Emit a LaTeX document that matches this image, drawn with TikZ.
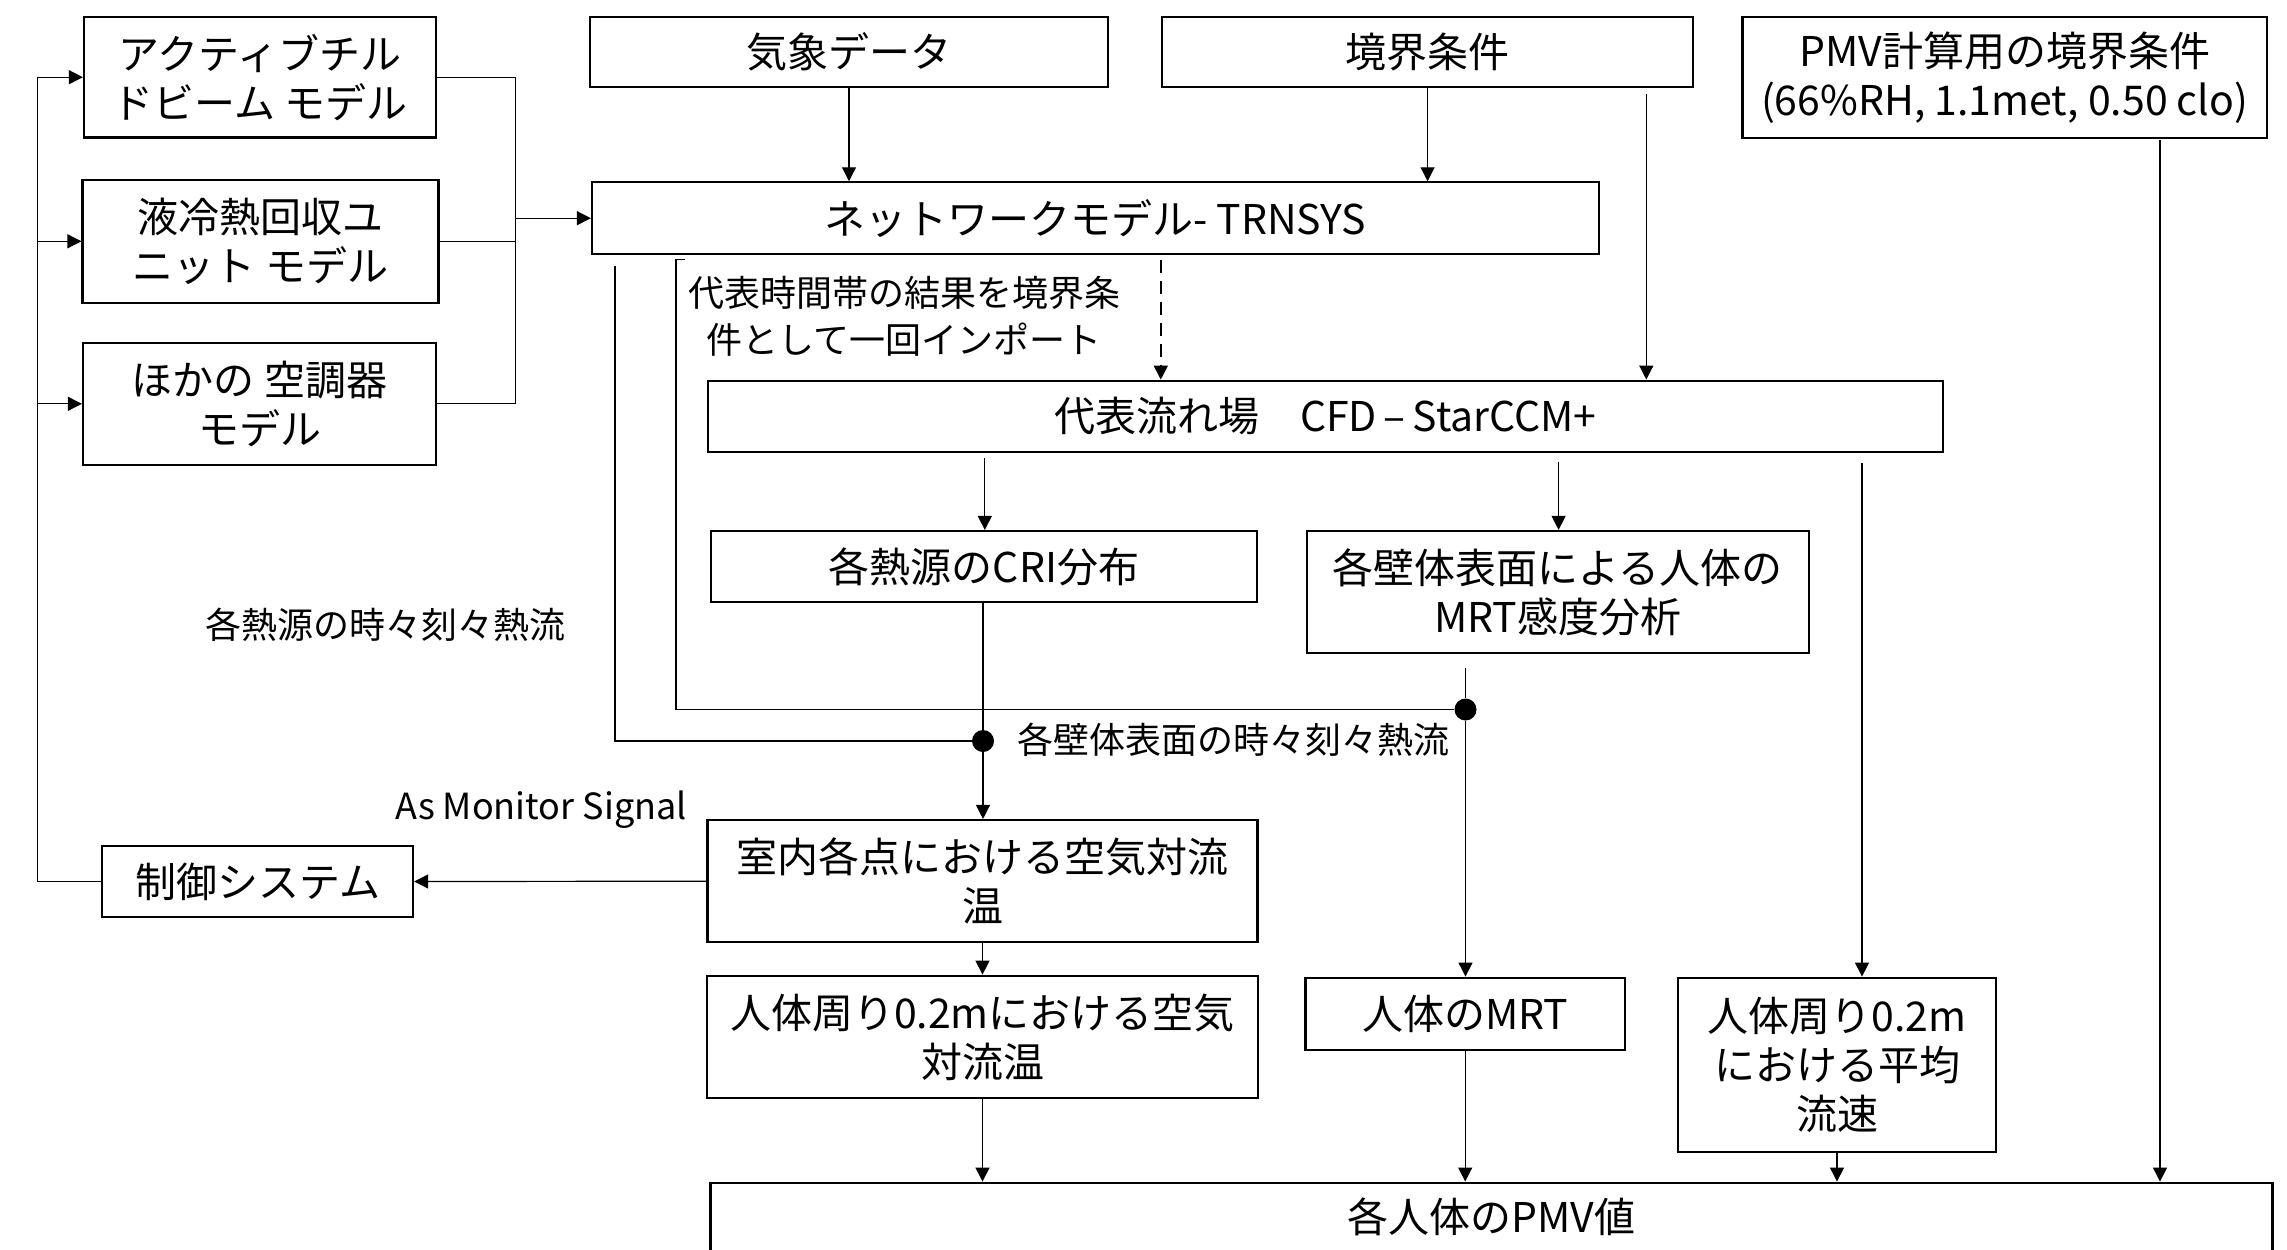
\documentclass[tikz,border=0pt]{standalone}
\usepackage{fontspec}
\setmainfont{Noto Sans CJK JP}
\usetikzlibrary{arrows.meta}
\tikzset{
 bx/.style={draw, line width=1.1pt, inner sep=0pt, align=center, font=\fontsize{20.5}{24.5}\selectfont},
 lbl/.style={inner sep=0pt, align=center, font=\fontsize{18}{23.5}\selectfont},
 arr/.style={-{Triangle[length=7pt,width=7pt]}, line width=0.6pt},
 ln/.style={line width=0.6pt},
 jdot/.style={circle, fill, inner sep=0pt, minimum size=11pt}
}
\begin{document}
\begin{tikzpicture}[x=0.5pt,y=-0.5pt]
\useasboundingbox (0,0) rectangle (2287,1249);
\clip (0,0) rectangle (2287,1249);
% boxes
\node[bx, minimum width=176pt, minimum height=60.25pt] (b1) at (260,77.2) {アクティブチル\\ドビーム モデル};
\node[bx, minimum width=178pt, minimum height=61.35pt] (b2) at (260.5,241.3) {液冷熱回収ユ\\ニット モデル};
\node[bx, minimum width=176.5pt, minimum height=61.15pt] (b3) at (259.5,403.8) {ほかの 空調器\\モデル};
\node[bx, minimum width=259pt, minimum height=35.3pt] (wx) at (849,52) {気象データ};
\node[bx, minimum width=265.3pt, minimum height=35.3pt] (bc) at (1427.6,52) {境界条件};
\node[bx, minimum width=262.2pt, minimum height=60.5pt] (pbc) at (2004.6,77.2) {PMV計算用の境界条件\\(66\%RH, 1.1met, 0.50 clo)};
\node[bx, minimum width=503.3pt, minimum height=35.85pt] (trn) at (1095.3,218.2) {ネットワークモデル- TRNSYS};
\node[bx, minimum width=617.65pt, minimum height=35.5pt] (cfd) at (1325.4,416.2) {代表流れ場　CFD\,–\,StarCCM+};
\node[bx, minimum width=273.3pt, minimum height=35.35pt] (cri) at (984,566.4) {各熱源のCRI分布};
\node[bx, minimum width=250.8pt, minimum height=61pt] (sens) at (1557.8,592) {各壁体表面による人体の\\MRT感度分析};
\node[bx, minimum width=275pt, minimum height=61.15pt] (room) at (982.5,881.2) {室内各点における空気対流\\温};
\node[bx, minimum width=155.5pt, minimum height=35.8pt] (ctrl) at (257.6,881.5) {制御システム};
\node[bx, minimum width=275.25pt, minimum height=61.3pt] (around) at (982.5,1037) {人体周り0.2mにおける空気\\対流温};
\node[bx, minimum width=159.8pt, minimum height=36.15pt] (mrt) at (1465.2,1013.8) {人体のMRT};
\node[bx, minimum width=158.75pt, minimum height=87pt] (vel) at (1837,1064.7) {人体周り0.2m\\における平均\\流速};
\node[bx, minimum width=781pt, minimum height=34.65pt] (pmv) at (1491.5,1217.3) {各人体のPMV値};
% labels
\node[lbl] (imp) at (904,316.5) {代表時間帯の結果を境界条\\件として一回インポート};
\node[lbl] (hs) at (385,625) {各熱源の時々刻々熱流};
\node[lbl, anchor=west] (ws) at (1017,740) {各壁体表面の時々刻々熱流};
\node[lbl] (mon) at (541,810) {As Monitor Signal};
% junction dots
\node[jdot] (d1) at (983,741) {};
\node[jdot] (d2) at (1465.5,709.5) {};
% helper coordinates
\coordinate (fbx) at (37.5,0);
\coordinate (colx) at (515.6,0);
\coordinate (bcs) at (1646.3,94);
\coordinate (ds) at (1160.8,260);
\coordinate (pl) at (2160,140);
\coordinate (o1) at (984.8,458);
\coordinate (o2) at (1558.6,461.7);
\coordinate (o3) at (1862,462.7);
\coordinate (s1) at (1465.5,668);
\coordinate (h1) at (615,266);
\coordinate (h2) at (676,259.3);
\coordinate (h2t) at (685,259.3);
% feedback from control system
\draw[arr] (ctrl.west) -| (fbx |- b1.west) -- (b1.west);
\draw[arr] (fbx |- b2.west) -- (b2.west);
\draw[arr] (fbx |- b3.west) -- (b3.west);
% collector into TRNSYS
\draw[ln] (b1.east) -| (colx |- b3.east) -- (b3.east);
\draw[ln] (b2.east) -- (colx |- b2.east);
\draw[arr] (colx |- trn.west) -- (trn.west);
% top inputs
\draw[arr] (wx.south) -- (wx.south |- trn.north);
\draw[arr] (bc.south) -- (bc.south |- trn.north);
\draw[arr] (bcs) -- (bcs |- cfd.north);
\draw[arr, line width=0.9pt, dash pattern=on 6.5pt off 4pt] (ds) -- (ds |- cfd.north);
\draw[arr] (pl) -- (pl |- pmv.north);
% CFD outputs
\draw[arr] (o1) -- (o1 |- cri.north);
\draw[arr] (o2) -- (o2 |- sens.north);
\draw[arr] (o3) -- (o3 |- vel.north);
% heat flow lines
\draw[ln] (h1) |- (d1);
\draw[ln] (h2t) -- (h2) |- (d2);
\draw[ln] (cri.south -| d1) -- (d1);
\draw[arr] (d1) -- (d1 |- room.north);
\draw[ln] (s1) -- (d2);
\draw[arr] (d2) -- (d2 |- mrt.north);
% lower chain
\draw[arr] (room.west) -- (ctrl.east);
\draw[arr] (room.south) -- (around.north);
\draw[arr] (around.south) -- (around.south |- pmv.north);
\draw[arr] (mrt.south) -- (mrt.south |- pmv.north);
\draw[arr] (vel.south) -- (vel.south |- pmv.north);
\end{tikzpicture}
\end{document}
